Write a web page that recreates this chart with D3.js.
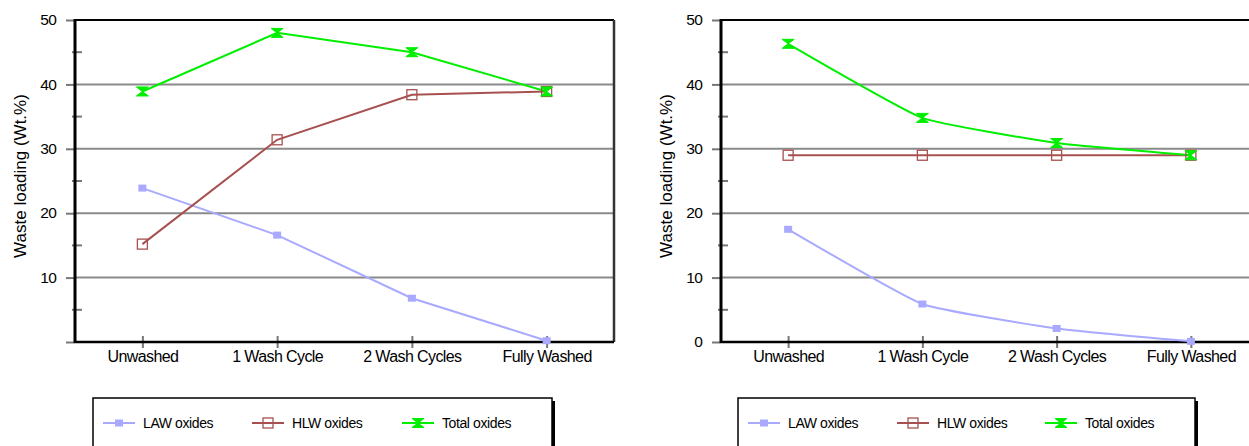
<!DOCTYPE html>
<html>
<head>
<meta charset="utf-8">
<script src="https://cdn.jsdelivr.net/npm/d3@7"></script>
<style>
  body { margin: 0; background: #fff; }
  svg text { font-family: "Liberation Sans", Arial, sans-serif; fill: #000; }
</style>
</head>
<body>
<div id="chart"></div>
<script>
var categories = ['Unwashed', '1 Wash Cycle', '2 Wash Cycles', 'Fully Washed']
var seriesNames = ['LAW oxides', 'HLW oxides', 'Total oxides']

// left panel
var lawLeft = [23.9, 16.6, 6.8, 0.2]
var hlwLeft = [15.2, 31.4, 38.4, 38.9]
var totalLeft = [38.9, 48.0, 45.0, 38.9]

// right panel
var lawRight = [17.5, 5.9, 2.1, 0.1]
var hlwRight = [29.0, 29.0, 29.0, 29.0]
var totalRight = [46.3, 34.8, 30.9, 29.0]

var yMajorTicks = [0, 10, 20, 30, 40, 50]
var yMinorTicks = [5, 15, 25, 35, 45]

var colors = ['#a9a9ff', '#a85050', '#00ee00']
var markers = ['filled', 'open', 'hourglass']

var svg = d3.select('#chart').append('svg')
  .attr('width', 1249)
  .attr('height', 446)

function drawMarker(g, type, color) {
  if (type === 'filled') {
    g.append('rect').attr('x', -4).attr('y', -3.5).attr('width', 8).attr('height', 7)
      .attr('fill', color)
  } else if (type === 'open') {
    g.append('rect').attr('x', -5).attr('y', -5).attr('width', 10).attr('height', 10)
      .attr('fill', 'none').attr('stroke', color).attr('stroke-width', 1.3)
  } else {
    g.append('path').attr('d', 'M-6,-4.5H6L-6,4.5H6Z')
      .attr('fill', color).attr('stroke', color).attr('stroke-width', 1)
  }
}

function drawPanel(left, width, series, showZero, curve) {
  var top = 20, height = 322
  var g = svg.append('g').attr('transform', 'translate(' + left + ',' + top + ')')

  var x = d3.scalePoint().domain(categories).range([0, width]).padding(0.5)
  var y = d3.scaleLinear().domain([0, 50]).range([height, 0])

  // gridlines
  g.append('g').selectAll('line')
    .data([10, 20, 30, 40])
    .enter().append('line')
    .attr('x1', 0).attr('x2', width)
    .attr('y1', d => y(d)).attr('y2', d => y(d))
    .attr('stroke', '#8a8a8a').attr('stroke-width', 2)

  // frame top and right
  g.append('line').attr('x1', 0).attr('x2', width).attr('y1', 0).attr('y2', 0)
    .attr('stroke', '#000').attr('stroke-width', 2)
  g.append('line').attr('x1', width).attr('x2', width).attr('y1', 0).attr('y2', height)
    .attr('stroke', '#333').attr('stroke-width', 2.5)

  // minor y ticks
  g.append('g').selectAll('line')
    .data(yMinorTicks)
    .enter().append('line')
    .attr('x1', -3).attr('x2', 7)
    .attr('y1', d => y(d)).attr('y2', d => y(d))
    .attr('stroke', '#777').attr('stroke-width', 2)

  var yAxis = d3.axisLeft(y).tickValues(yMajorTicks).tickSize(9).tickPadding(10)
    .tickFormat(d => (d === 0 && !showZero) ? '' : d)
  var ya = g.append('g').attr('class', 'axis axis-y').call(yAxis)
  ya.select('.domain').remove()
  ya.selectAll('line').attr('stroke', '#777').attr('stroke-width', 2)
  ya.selectAll('text').attr('font-size', 15.5).attr('letter-spacing', -0.8).attr('dy', '0.3em')

  var xAxis = d3.axisBottom(x).tickSize(6)
  var xa = g.append('g').attr('class', 'axis axis-x')
    .attr('transform', 'translate(0,' + height + ')')
    .call(xAxis)
  xa.select('.domain').remove()
  xa.selectAll('line').attr('y1', -6).attr('y2', 6).attr('stroke', '#777').attr('stroke-width', 2)
  xa.selectAll('text').attr('y', 9).attr('font-size', 16).attr('letter-spacing', -0.6)

  // axes lines
  g.append('line').attr('x1', 0).attr('x2', 0).attr('y1', -1).attr('y2', height + 1)
    .attr('stroke', '#000').attr('stroke-width', 3)
  g.append('line').attr('x1', 0).attr('x2', width).attr('y1', height).attr('y2', height)
    .attr('stroke', '#000').attr('stroke-width', 2.5)

  // y title
  g.append('text')
    .attr('transform', 'translate(' + (-49) + ',' + (height / 2 - 5) + ') rotate(-90)')
    .attr('text-anchor', 'middle')
    .attr('font-size', 17)
    .text('Waste loading (Wt.%)')

  var line = d3.line().x((d, i) => x(categories[i])).y(d => y(d)).curve(curve)

  series.forEach(function(values, k) {
    g.append('path').datum(values)
      .attr('d', line)
      .attr('fill', 'none')
      .attr('stroke', colors[k])
      .attr('stroke-width', 2)
  })
  series.forEach(function(values, k) {
    values.forEach(function(v, i) {
      var m = g.append('g').attr('transform', 'translate(' + x(categories[i]) + ',' + y(v) + ')')
      drawMarker(m, markers[k], colors[k])
    })
  })
}

function drawLegend(left, width, itemX) {
  var g = svg.append('g').attr('transform', 'translate(' + left + ',398)')
  g.append('rect').attr('x', 0).attr('y', 0).attr('width', width).attr('height', 70)
    .attr('fill', '#fff').attr('stroke', '#000').attr('stroke-width', 1.5)
  g.append('line').attr('x1', width + 1.5).attr('x2', width + 1.5).attr('y1', 3).attr('y2', 70)
    .attr('stroke', '#000').attr('stroke-width', 3)
  seriesNames.forEach(function(name, k) {
    var it = g.append('g').attr('transform', 'translate(' + itemX[k] + ',25)')
    it.append('line').attr('x1', 0).attr('x2', 32).attr('stroke', colors[k]).attr('stroke-width', 2)
    var m = it.append('g').attr('transform', 'translate(16,0)')
    drawMarker(m, markers[k], colors[k])
    it.append('text').attr('x', 40).attr('dy', '0.35em')
      .attr('font-size', 14).attr('letter-spacing', -0.4)
      .text(name)
  })
}

drawPanel(75, 539, [lawLeft, hlwLeft, totalLeft], false, d3.curveLinear)
drawPanel(721, 537, [lawRight, hlwRight, totalRight], true, d3.curveCardinal.tension(0.6))

drawLegend(93, 459, [10, 159, 309])
drawLegend(738, 457, [10, 159, 307])
</script>
</body>
</html>
